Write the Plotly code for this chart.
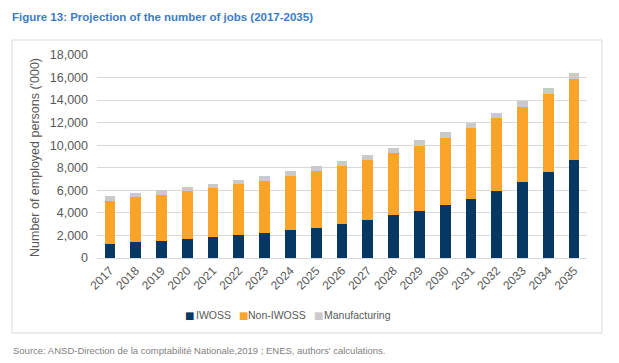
import plotly.graph_objects as go

years = [str(y) for y in range(2017, 2036)]
iwoss = [1270, 1390, 1500, 1650, 1830, 2000, 2240, 2450, 2650, 3040, 3360, 3780, 4190, 4720, 5250, 5960, 6760, 7610, 8670]
non_iwoss = [3805, 3980, 4130, 4250, 4360, 4520, 4630, 4840, 5080, 5130, 5370, 5540, 5780, 5930, 6250, 6490, 6660, 6960, 7200]
manufacturing = [380, 350, 400, 360, 370, 410, 440, 390, 390, 440, 420, 450, 470, 500, 480, 440, 530, 500, 500]
series_names = ["IWOSS", "Non-IWOSS", "Manufacturing"]
series_colors = ["#073763", "#FBA428", "#CACACA"]
y_ticks = [0, 2000, 4000, 6000, 8000, 10000, 12000, 14000, 16000, 18000]
y_tick_labels = ["0", "2,000", "4,000", "6,000", "8,000", "10,000", "12,000", "14,000", "16,000", "18,000"]

OFF = 8  # default body margin of the page
W, H = 619 - OFF, 363 - OFF
L, R, T, B = 97 - OFF, 32, 55 - OFF, 105
pw, ph = W - L - R, H - T - B

def px(x):
    return (x - OFF - L) / pw

def py(y):
    return (H - B - (y - OFF)) / ph

font_main = "Liberation Sans, Arial, sans-serif"
tick_col = "#595959"

fig = go.Figure()
for name, vals, col in zip(series_names, [iwoss, non_iwoss, manufacturing], series_colors):
    fig.add_bar(x=years, y=vals, name=name, marker=dict(color=col, line=dict(width=0)))

fig.update_layout(
    width=W, height=H,
    margin=dict(l=L, r=R, t=T, b=B, autoexpand=False),
    barmode="stack", bargap=0.585,
    paper_bgcolor="white", plot_bgcolor="white",
    font=dict(family=font_main, size=12, color=tick_col),
    showlegend=False,
    xaxis=dict(type="category", tickangle=-45, tickfont=dict(size=12, color=tick_col),
               showgrid=False, showline=True, linecolor="#d9d9d9", linewidth=1, ticks=""),
    yaxis=dict(range=[0, 18000], tickvals=y_ticks, ticktext=y_tick_labels,
               tickfont=dict(size=12.5, color=tick_col), showgrid=True, gridcolor="#d9d9d9",
               gridwidth=1, zeroline=False, showline=False, ticks="", ticklabelstandoff=8),
)

fig.add_shape(type="rect", xref="paper", yref="paper", x0=px(12), x1=px(602), y0=py(333), y1=py(40),
              line=dict(color="#d9d9d9", width=1), fillcolor="rgba(0,0,0,0)", layer="below")

# legend drawn as text: square marker + label
legend_sq = [189, 243, 318]
legend_txt = [213, 277, 357]
for sx, tx, name, col in zip(legend_sq, legend_txt, series_names, series_colors):
    fig.add_annotation(text="■", xref="paper", yref="paper", x=px(sx), y=py(315),
                       xanchor="center", yanchor="middle", showarrow=False,
                       font=dict(family="DejaVu Sans", size=10, color=col))
    fig.add_annotation(text=name, xref="paper", yref="paper", x=px(tx), y=py(315),
                       xanchor="center", yanchor="middle", showarrow=False,
                       font=dict(size=10.5, color=tick_col))

fig.add_annotation(text="<b>Figure 13: Projection of the number of jobs (2017-2035)</b>",
                   xref="paper", yref="paper", x=px(10), y=py(17), xanchor="left", yanchor="middle",
                   showarrow=False, font=dict(family=font_main, size=11.5, color="#3B7DC4"))
fig.add_annotation(text="Number of employed persons ('000)", textangle=-90,
                   xref="paper", yref="paper", x=px(35), y=py(158), xanchor="center", yanchor="middle",
                   showarrow=False, font=dict(size=12.5, color=tick_col))
fig.add_annotation(text="Source: ANSD-Direction de la comptabilité Nationale,2019 ; ENES, authors' calculations.",
                   xref="paper", yref="paper", x=px(11), y=py(350), xanchor="left", yanchor="middle",
                   showarrow=False, font=dict(size=9.5, color="#7f7f7f"))

fig.write_html("out.html")
